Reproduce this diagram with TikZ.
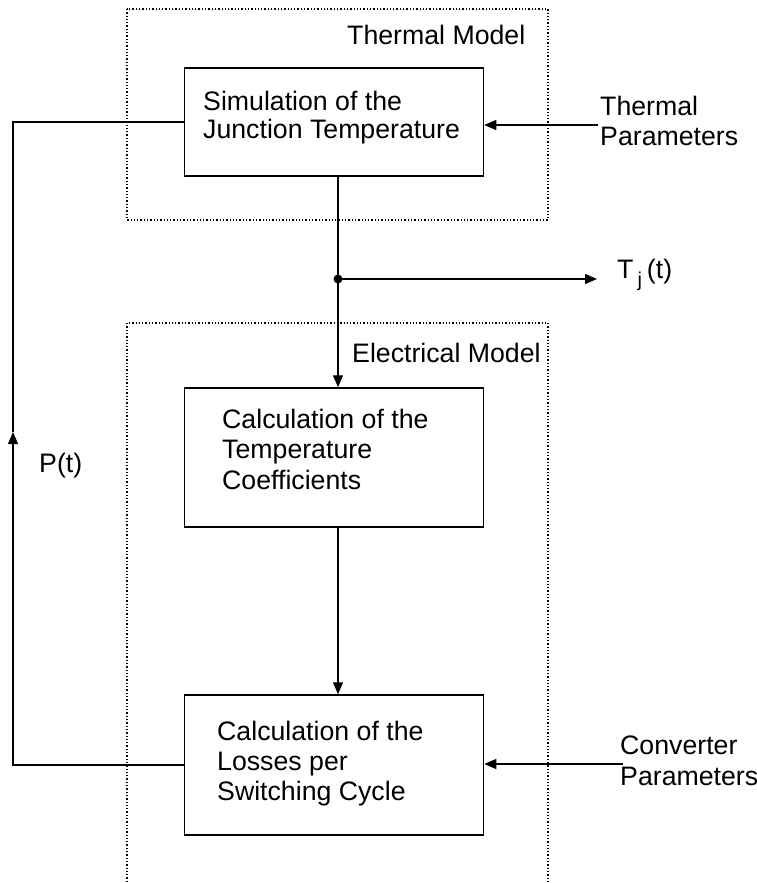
\documentclass[tikz,border=0pt]{standalone}
\usepackage{fontspec}
\setmainfont{Liberation Sans}
\usetikzlibrary{arrows.meta}
\begin{document}
\begin{tikzpicture}[x=1pt,y=-1pt,
  txt/.style={inner sep=0pt, align=left, anchor=base west, font=\fontsize{26.7}{30.5}\selectfont},
  blk/.style={draw, line width=1.5pt, minimum width=299pt, inner sep=0pt},
  conn/.style={line width=1.1pt},
  arr/.style={conn, -{Triangle[length=12pt,width=10pt]}},
  dotbox/.style={line width=1.3pt, dash pattern=on 1.3pt off 2pt}]
\useasboundingbox (0,0) rectangle (757,883);
% model frames
\draw[dotbox] (127,9) rectangle (548,220);
\draw[dotbox] (127,882) -- (127,323) -- (548,323) -- (548,882);
% blocks
\node[blk, minimum height=108pt] (b1) at (334,122) {};
\node[blk, minimum height=139pt] (b2) at (334,457.5) {};
\node[blk, minimum height=140pt] (b3) at (334,765) {};
% texts (base anchor = baseline of last line)
\node[txt, font=\fontsize{26.7}{28}\selectfont] (t1) at (203,138) {Simulation of the\\Junction Temperature};
\node[txt] (t2) at (222,489) {Calculation of the\\Temperature\\Coefficients};
\node[txt, font=\fontsize{26.7}{30}\selectfont] (t3) at (217,800) {Calculation of the\\Losses per\\Switching Cycle};
\node[txt] (tm) at (347,45) {Thermal Model};
\node[txt] (em) at (352,362) {Electrical Model};
\node[txt, font=\fontsize{26.7}{30}\selectfont] (tpl) at (600,145) {Thermal\\Parameters};
\node[txt, font=\fontsize{26.7}{31}\selectfont] (cpl) at (620,785) {Converter\\Parameters};
\node[txt] (pl) at (39,472) {P(t)};
\node[txt] (tjl) at (617,278) {T\hspace{4pt}\raisebox{-8pt}{\fontsize{20}{20}\selectfont j}\hspace{5pt}(t)};
% connectors
\coordinate (j) at (338,279);
\coordinate (tjend) at (597,279);
\coordinate (tp) at (598,125);
\coordinate (cp) at (623,764);
\coordinate (fb) at (13,432);
\draw[conn] (b1.south -| j) -- (j);
\fill (j) circle (4.5pt);
\draw[arr] (j) -- (tjend);
\draw[arr] (j) -- (j |- b2.north);
\draw[arr] (b2.south -| j) -- (j |- b3.north);
\draw[arr] (tp) -- (tp -| b1.east);
\draw[arr] (cp) -- (cp -| b3.east);
\draw[arr] (b3.west) -| (fb);
\draw[conn] (fb) |- (b1.west);
\end{tikzpicture}
\end{document}
